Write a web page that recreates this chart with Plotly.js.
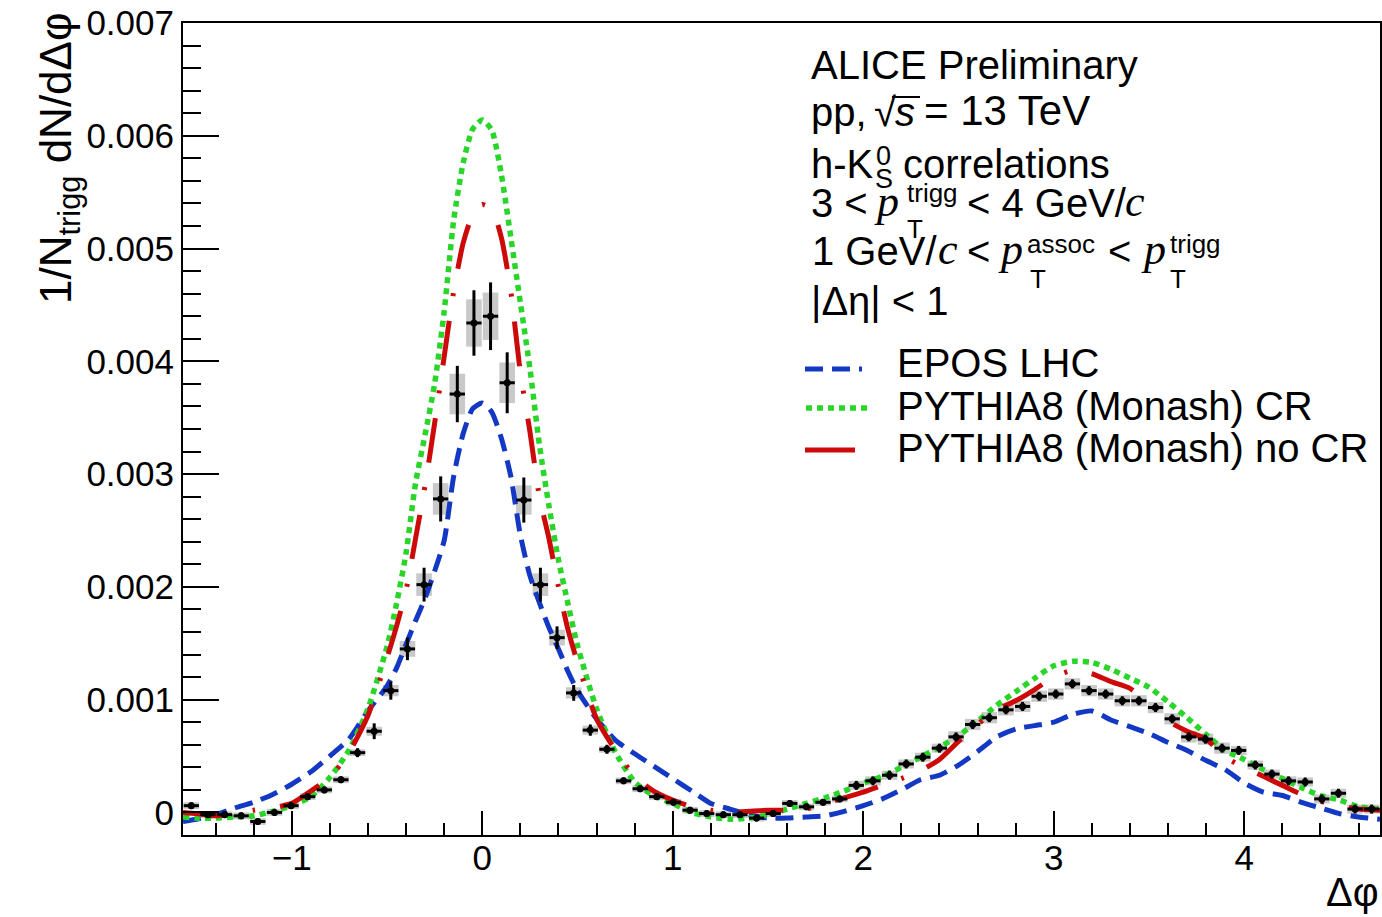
<!DOCTYPE html>
<html><head><meta charset="utf-8">
<script src="https://cdn.plot.ly/plotly-3.0.1.min.js"></script>
<style>html,body{margin:0;padding:0;background:#fff}#chart{width:1382px;height:917px}</style>
</head><body><div id="chart"></div>
<script>
// ---- data: 72 bins in delta-phi, from -pi/2 to 3pi/2 ----
const binCenters = [-1.5272,-1.4399,-1.3526,-1.2654,-1.1781,-1.0908,-1.0036,-0.9163,-0.8290,-0.7418,
 -0.6545,-0.5672,-0.4800,-0.3927,-0.3054,-0.2182,-0.1309,-0.0436,0.0436,0.1309,
 0.2182,0.3054,0.3927,0.4800,0.5672,0.6545,0.7418,0.8290,0.9163,1.0036,
 1.0908,1.1781,1.2654,1.3526,1.4399,1.5272,1.6144,1.7017,1.7890,1.8762,
 1.9635,2.0508,2.1380,2.2253,2.3126,2.3998,2.4871,2.5744,2.6616,2.7489,
 2.8362,2.9234,3.0107,3.0980,3.1852,3.2725,3.3598,3.4470,3.5343,3.6216,
 3.7088,3.7961,3.8834,3.9706,4.0579,4.1452,4.2324,4.3197,4.4070,4.4942,
 4.5815,4.6688];
const dataY = [0.00006,-0.00002,-0.00002,-0.00003,-0.00008,0.00000,0.00006,0.00014,0.00020,0.00029,
 0.00053,0.00072,0.00108,0.00145,0.00202,0.00278,0.00371,0.00434,0.00440,0.00381,
 0.00277,0.00202,0.00155,0.00106,0.00073,0.00056,0.00028,0.00021,0.00014,0.00009,
 0.00002,-0.00001,-0.00002,-0.00002,-0.00005,-0.00001,0.00008,0.00005,0.00009,0.00012,
 0.00024,0.00028,0.00033,0.00043,0.00049,0.00057,0.00067,0.00078,0.00084,0.00091,
 0.00094,0.00103,0.00105,0.00114,0.00108,0.00105,0.00099,0.00099,0.00093,0.00083,
 0.00067,0.00065,0.00057,0.00055,0.00042,0.00034,0.00028,0.00027,0.00012,0.00017,
 0.00003,0.00003];
const statErr = [0.00003,0.00003,0.00003,0.00003,0.00003,0.00003,0.00003,0.00003,0.00003,0.00003,
 0.00004,0.00007,0.00008,0.00010,0.00015,0.00020,0.00025,0.00029,0.00030,0.00027,
 0.00020,0.00015,0.00010,0.00007,0.00005,0.00004,0.00003,0.00003,0.00003,0.00003,
 0.00003,0.00003,0.00003,0.00003,0.00003,0.00003,0.00003,0.00003,0.00003,0.00003,
 0.00004,0.00004,0.00004,0.00004,0.00004,0.00004,0.00004,0.00004,0.00004,0.00004,
 0.00004,0.00004,0.00004,0.00004,0.00004,0.00004,0.00004,0.00004,0.00004,0.00004,
 0.00004,0.00004,0.00004,0.00004,0.00004,0.00004,0.00004,0.00004,0.00004,0.00004,
 0.00004,0.00004];
const sysErr = [0.00003,0.00003,0.00003,0.00003,0.00003,0.00003,0.00003,0.00003,0.00003,0.00003,
 0.00003,0.00004,0.00005,0.00007,0.00010,0.00014,0.00018,0.00021,0.00021,0.00018,
 0.00013,0.00010,0.00007,0.00005,0.00004,0.00003,0.00003,0.00003,0.00003,0.00003,
 0.00003,0.00003,0.00003,0.00003,0.00003,0.00003,0.00003,0.00003,0.00003,0.00003,
 0.00004,0.00004,0.00004,0.00004,0.00004,0.00004,0.00005,0.00005,0.00005,0.00005,
 0.00005,0.00005,0.00005,0.00005,0.00005,0.00005,0.00005,0.00005,0.00005,0.00005,
 0.00005,0.00005,0.00005,0.00004,0.00004,0.00004,0.00004,0.00004,0.00004,0.00004,
 0.00004,0.00004];

// ---- model curves ----
const modelPhi = [-1.5708,-1.5,-1.4,-1.3,-1.2,-1.1,-1.0,-0.9,-0.8,-0.7,-0.6,-0.5,
 -0.45,-0.4,-0.35,-0.3,-0.25,-0.2,-0.15,-0.1,-0.05,0,0.05,0.1,0.15,0.2,0.25,0.3,0.35,0.4,0.45,0.5,
 0.6,0.7,0.8,0.9,1.0,1.1,1.2,1.3,1.4,1.5,1.6,1.7,1.8,1.9,2.0,2.1,2.2,2.3,2.4,2.5,2.6,2.7,2.8,2.9,
 3.0,3.1,3.2,3.3,3.4,3.5,3.6,3.7,3.8,3.9,4.0,4.1,4.2,4.3,4.4,4.5,4.6,4.7124];
const pythiaCR = [-0.00004,-0.00005,-0.00005,-0.00004,-0.00003,0.00001,0.00006,0.00014,0.00031,0.00055,0.00092,0.00147,
 0.00185,0.00230,0.00292,0.00335,0.00380,0.00444,0.00525,0.00576,0.00606,0.00614,0.00605,0.00566,0.00510,0.00452,0.00394,0.00326,0.00272,0.00224,0.00185,0.00148,
 0.00092,0.00053,0.00027,0.00015,0.00008,0.00000,-0.00004,-0.00006,-0.00005,-0.00002,0.00003,0.00008,0.00013,0.00019,0.00026,0.00032,0.00040,0.00049,0.00058,0.00068,0.00081,0.00095,0.00107,0.00119,
 0.00130,0.00134,0.00133,0.00127,0.00119,0.00111,0.00098,0.00084,0.00069,0.00055,0.00047,0.00038,0.00030,0.00022,0.00015,0.00011,0.00005,0.00003];
const pythiaNoCR = [0.00000,-0.00001,-0.00003,-0.00001,0.00002,0.00004,0.00008,0.00019,0.00031,0.00053,0.00086,0.00137,
 0.00165,0.00197,0.00243,0.00290,0.00345,0.00404,0.00462,0.00505,0.00530,0.00539,0.00535,0.00510,0.00462,0.00390,0.00338,0.00280,0.00243,0.00200,0.00162,0.00133,
 0.00083,0.00055,0.00032,0.00019,0.00011,0.00005,0.00002,0.00000,0.00001,0.00002,0.00002,0.00003,0.00008,0.00013,0.00018,0.00024,0.00030,0.00037,0.00047,0.00063,0.00078,0.00091,0.00099,0.00109,
 0.00120,0.00126,0.00123,0.00116,0.00110,0.00097,0.00081,0.00072,0.00065,0.00049,0.00040,0.00032,0.00024,0.00016,0.00010,0.00006,0.00003,0.00002];
const eposLHC = [-0.00008,-0.00006,-0.00002,0.00004,0.00009,0.00016,0.00025,0.00036,0.00050,0.00065,0.00090,0.00112,
 0.00128,0.00149,0.00170,0.00190,0.00214,0.00241,0.00298,0.00336,0.00358,0.00363,0.00355,0.00332,0.00298,0.00246,0.00210,0.00186,0.00164,0.00145,0.00125,0.00108,
 0.00083,0.00064,0.00052,0.00041,0.00030,0.00019,0.00008,0.00003,-0.00002,-0.00005,-0.00005,-0.00004,-0.00003,0.00001,0.00006,0.00012,0.00020,0.00029,0.00033,0.00042,0.00054,0.00067,0.00074,0.00077,
 0.00080,0.00087,0.00090,0.00082,0.00076,0.00070,0.00062,0.00055,0.00046,0.00038,0.00026,0.00018,0.00015,0.00009,0.00004,-0.00001,-0.00004,-0.00006];

const seriesNames = ['EPOS LHC','PYTHIA8 (Monash) CR','PYTHIA8 (Monash) no CR'];
const yTickVals = [0,0.001,0.002,0.003,0.004,0.005,0.006,0.007];
const xTickVals = [-1,0,1,2,3,4];

// ---- styles / geometry ----
const W=1382,H=917,L=183,R=2,T=23,B=82;
const PW=W-L-R, PH=H-T-B;
const xp = p => (p-L)/PW;
const yp = p => (H-B-p)/PH;
const SANS = 'Liberation Sans, Arial, Helvetica, sans-serif';
const SERIF = 'Liberation Serif, Times New Roman, serif';
const BLUE='#1238c4', GREEN='#2ad52a', RED='#cc0a0a';
const DASH_BLUE='18px,9px', DASH_GREEN='6px,5px', DASH_RED='45px,25px,3px,25px';

const annotations=[];
function txt(text, left, base, size, fam, anchor){
  annotations.push({xref:'paper',yref:'paper',x:xp(left),y:yp(base-0.36*size),
    xanchor:anchor||'left',yanchor:'middle',text:text,showarrow:false,
    font:{family:fam||SANS,size:size,color:'#000'},borderpad:0,borderwidth:0});
}
const it = (s)=>'<i>'+s+'</i>';
// header text
txt('ALICE Preliminary',811,79,40);
txt('pp,',811,126,40);
txt('√',874,126,40);
txt(it('s'),895,126,40);
txt('= 13 TeV',924,126,42);
txt('h-K',811,178,40);
txt('0',876,166,27);
txt('S',875,189,27);
txt('correlations',903,178,40);
txt('3 <',811,217,40);
txt(it('p'),874,217,44,SERIF);
txt('trigg',907,202,26);
txt('T',907,238,26);
txt('< 4 GeV/',967,217,40);
txt(it('c'),1125,217,44,SERIF);
txt('1 GeV/',812,265,40);
txt(it('c'),938,265,44,SERIF);
txt('<',967,265,40);
txt(it('p'),998,265,44,SERIF);
txt('assoc',1027,253,26);
txt('T',1030,288,26);
txt('<',1108,265,40);
txt(it('p'),1141,265,44,SERIF);
txt('trigg',1170,253,26);
txt('T',1170,288,26);
txt('|Δη| < 1',811,315,40);
// legend text
txt(seriesNames[0],897,377,40);
txt(seriesNames[1],897,420,40);
txt(seriesNames[2],897,462,40);
// axis titles
txt('Δφ',1379,906,40,SANS,'right');
annotations.push({xref:'paper',yref:'paper',x:xp(59),y:yp(12),xanchor:'center',yanchor:'top',
  textangle:-90,showarrow:false,text:'1/N<sub>trigg</sub> dN/dΔφ',
  font:{family:SANS,size:44,color:'#000'},borderpad:0,borderwidth:0});

const shapes=[
  {type:'line',xref:'paper',yref:'paper',x0:xp(805),x1:xp(862),y0:yp(369),y1:yp(369),line:{color:BLUE,width:5,dash:DASH_BLUE}},
  {type:'line',xref:'paper',yref:'paper',x0:xp(806),x1:xp(872),y0:yp(408),y1:yp(408),line:{color:GREEN,width:5.5,dash:DASH_GREEN}},
  {type:'line',xref:'paper',yref:'paper',x0:xp(805),x1:xp(855),y0:yp(450),y1:yp(450),line:{color:RED,width:5}},
  {type:'line',xref:'paper',yref:'paper',x0:xp(892),x1:xp(920),y0:yp(97),y1:yp(97),line:{color:'#000',width:2}}
];

const traces=[
  {type:'bar',x:binCenters,base:dataY.map((v,i)=>v-sysErr[i]),y:sysErr.map(s=>2*s),width:0.082,
   marker:{color:'#c9c9c9',line:{width:0}},hoverinfo:'skip',showlegend:false},
  {type:'scatter',mode:'lines',name:seriesNames[0],x:modelPhi,y:eposLHC,
   line:{color:BLUE,width:5,dash:DASH_BLUE,shape:'spline',smoothing:0.6}},
  {type:'scatter',mode:'lines',name:seriesNames[1],x:modelPhi,y:pythiaCR,
   line:{color:GREEN,width:5.5,dash:DASH_GREEN,shape:'spline',smoothing:0.6}},
  {type:'scatter',mode:'lines',name:seriesNames[2],x:modelPhi,y:pythiaNoCR,
   line:{color:RED,width:5,dash:DASH_RED,shape:'spline',smoothing:0.6}},
  {type:'scatter',mode:'markers',name:'data',x:binCenters,y:dataY,
   marker:{color:'#000',size:7},
   error_y:{type:'data',array:statErr,color:'#000',thickness:3,width:0},
   error_x:{type:'constant',value:0.04,color:'#000',thickness:3,width:0}}
];

const layout={
  width:W,height:H,margin:{l:L,r:R,t:T,b:B,pad:0},
  paper_bgcolor:'#fff',plot_bgcolor:'#fff',showlegend:false,
  font:{family:SANS,color:'#000'},
  xaxis:{range:[-1.5708,4.7124],showgrid:false,zeroline:false,showline:true,linecolor:'#000',linewidth:2,mirror:true,
    tickmode:'array',tickvals:xTickVals,ticktext:xTickVals.map(v=>v<0?'−'+Math.abs(v):String(v)),
    ticks:'inside',ticklen:24,tickwidth:2,tickcolor:'#000',tickfont:{size:35,family:SANS},ticklabelstandoff:-9,
    minor:{dtick:0.2,tick0:0,ticks:'inside',ticklen:12,tickwidth:2,tickcolor:'#000',showgrid:false}},
  yaxis:{range:[-0.0002,0.007],showgrid:false,zeroline:false,showline:true,linecolor:'#000',linewidth:2,mirror:true,
    tickmode:'array',tickvals:yTickVals,ticktext:yTickVals.map(v=>v===0?'0':v.toFixed(3)),
    ticks:'inside',ticklen:36,tickwidth:2,tickcolor:'#000',tickfont:{size:35,family:SANS},
    minor:{dtick:0.0002,tick0:0,ticks:'inside',ticklen:18,tickwidth:2,tickcolor:'#000',showgrid:false}},
  annotations:annotations,shapes:shapes
};
Plotly.newPlot('chart',traces,layout,{staticPlot:true,displayModeBar:false});
</script></body></html>
